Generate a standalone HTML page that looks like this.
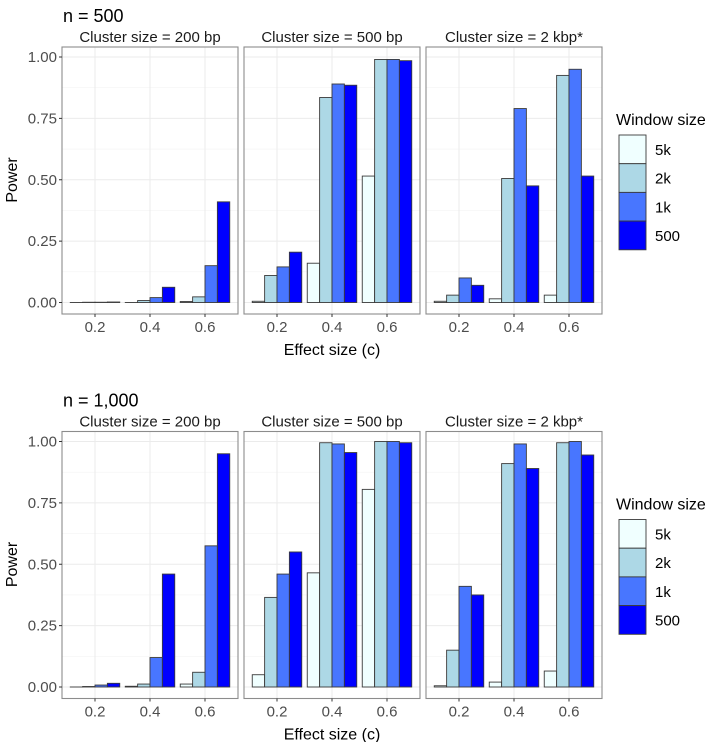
<!DOCTYPE html>
<html><head><meta charset="utf-8"><style>
body{margin:0;background:#fff;}
svg text{font-family:"Liberation Sans",sans-serif;}
</style></head><body>
<svg id="chart" width="709" height="742" xmlns="http://www.w3.org/2000/svg">
<rect width="709" height="742" fill="#fff"/>
</svg>
<script>
const effectSizes = ["0.2","0.4","0.6"];
const windowSizes = ["5k","2k","1k","500"];
const windowColors = ["#f0ffff","#add8e6","#4876ff","#0000ff"];
const clusterLabels = ["Cluster size = 200 bp","Cluster size = 500 bp","Cluster size = 2 kbp*"];
const yTicks = [0,0.25,0.5,0.75,1];
const yTickLabels = ["0.00","0.25","0.50","0.75","1.00"];
const sampleTitles = ["n = 500","n = 1,000"];
// values[panel][effect][window]
const n500_200 = [[0.0,0.001,0.001,0.002],[0.0,0.008,0.02,0.062],[0.004,0.023,0.15,0.41]];
const n500_500 = [[0.005,0.11,0.145,0.205],[0.16,0.835,0.89,0.885],[0.515,0.99,0.99,0.985]];
const n500_2k = [[0.005,0.03,0.1,0.07],[0.015,0.505,0.79,0.475],[0.03,0.925,0.95,0.515]];
const n1000_200 = [[0.0,0.002,0.008,0.015],[0.003,0.012,0.12,0.46],[0.012,0.06,0.575,0.95]];
const n1000_500 = [[0.05,0.365,0.46,0.55],[0.465,0.995,0.99,0.955],[0.805,1.0,1.0,0.995]];
const n1000_2k = [[0.005,0.15,0.41,0.375],[0.02,0.91,0.99,0.89],[0.065,0.995,1.0,0.945]];
const rowsData = [[n500_200,n500_500,n500_2k],[n1000_200,n1000_500,n1000_2k]];

const svg = document.getElementById('chart');
const NS = "http://www.w3.org/2000/svg";
function mk(tag, attrs, parent){const e=document.createElementNS(NS,tag);for(const k in attrs)e.setAttribute(k,attrs[k]);(parent||svg).appendChild(e);return e;}

const panelX0 = [62,244,426], panelW = 176;
const rowOffsets = [0,384.5];
rowsData.forEach((row, r) => {
  const off = rowOffsets[r];
  const top = 47+off, bot = 314+off;
  const y = v => 302.5+off - v*(302.5-57);
  const g = mk('g',{});
  
  
  const t = mk('text',{x:63,y:22+off,'font-size':18,fill:'#000'},g);
  t.textContent = sampleTitles[r];
  
  
  row.forEach((panel, p) => {
    const x0 = panelX0[p];
    const xc = i => x0 + 33 + i*55;
    const pg = mk('g',{},g);
    
    
    const st = mk('text',{x:x0+panelW/2,y:42+off,'font-size':15,'text-anchor':'middle',fill:'#1a1a1a'},pg);
    st.textContent = clusterLabels[p];
    
    
    for(let k=0;k<4;k++){const v=yTicks[k]+0.125;mk('line',{x1:x0,x2:x0+panelW,y1:y(v),y2:y(v),stroke:'#f3f3f3','stroke-width':0.6},pg);}
    yTicks.forEach(v=>mk('line',{x1:x0,x2:x0+panelW,y1:y(v),y2:y(v),stroke:'#ebebeb','stroke-width':1},pg));
    effectSizes.forEach((e,i)=>mk('line',{x1:xc(i),x2:xc(i),y1:top,y2:bot,stroke:'#ebebeb','stroke-width':1},pg));
    const bw = 49.5/4;
    panel.forEach((vals,i)=>{
      vals.forEach((v,j)=>{
        const bx = xc(i) - 24.75 + j*bw;
        const b = mk('rect',{x:bx,y:y(v),width:bw,height:Math.max(y(0)-y(v),0.01),fill:windowColors[j],stroke:'#3a3a3a','stroke-width':0.9},pg);
        
        
      });
    });
    mk('rect',{x:x0,y:top,width:panelW,height:bot-top,fill:'none',stroke:'#8c8c8c','stroke-width':1.1},pg);
    effectSizes.forEach((e,i)=>{
      mk('line',{x1:xc(i),x2:xc(i),y1:bot,y2:bot+3,stroke:'#333'},pg);
      const tl = mk('text',{x:xc(i),y:bot+18,'font-size':15,'text-anchor':'middle',fill:'#4d4d4d'},pg);
      tl.textContent = e;
      
      
    });
    if(p===0){
      yTicks.forEach((v,k)=>{
        mk('line',{x1:x0-3,x2:x0,y1:y(v),y2:y(v),stroke:'#333'},pg);
        const yl = mk('text',{x:x0-5,y:y(v)+5,'font-size':15,'text-anchor':'end',fill:'#4d4d4d'},pg);
        yl.textContent = yTickLabels[k];
        
        
      });
    }
  });
  const yt = mk('text',{x:0,y:0,'font-size':16,'text-anchor':'middle',fill:'#000',transform:`translate(17,${180+off}) rotate(-90)`},g);
  yt.textContent='Power';
  
  
  const xt = mk('text',{x:332,y:355+off,'font-size':16,'text-anchor':'middle',fill:'#000'},g);
  xt.textContent='Effect size (c)';
  
  
  const lg = mk('g',{},g);
  
  
  const lt = mk('text',{x:616,y:125+off,'font-size':16,fill:'#000'},lg);
  lt.textContent='Window size';
  
  
  windowSizes.forEach((w,j)=>{
    const ky = 135+off + j*28.7;
    const kr = mk('rect',{x:619,y:ky,width:27,height:28.7,fill:windowColors[j],stroke:'#3a3a3a','stroke-width':0.9},lg);
    
    
    const kt = mk('text',{x:655,y:ky+20,'font-size':15,fill:'#000'},lg);
    kt.textContent=w;
    
    
  });
});
</script>
</body></html>
